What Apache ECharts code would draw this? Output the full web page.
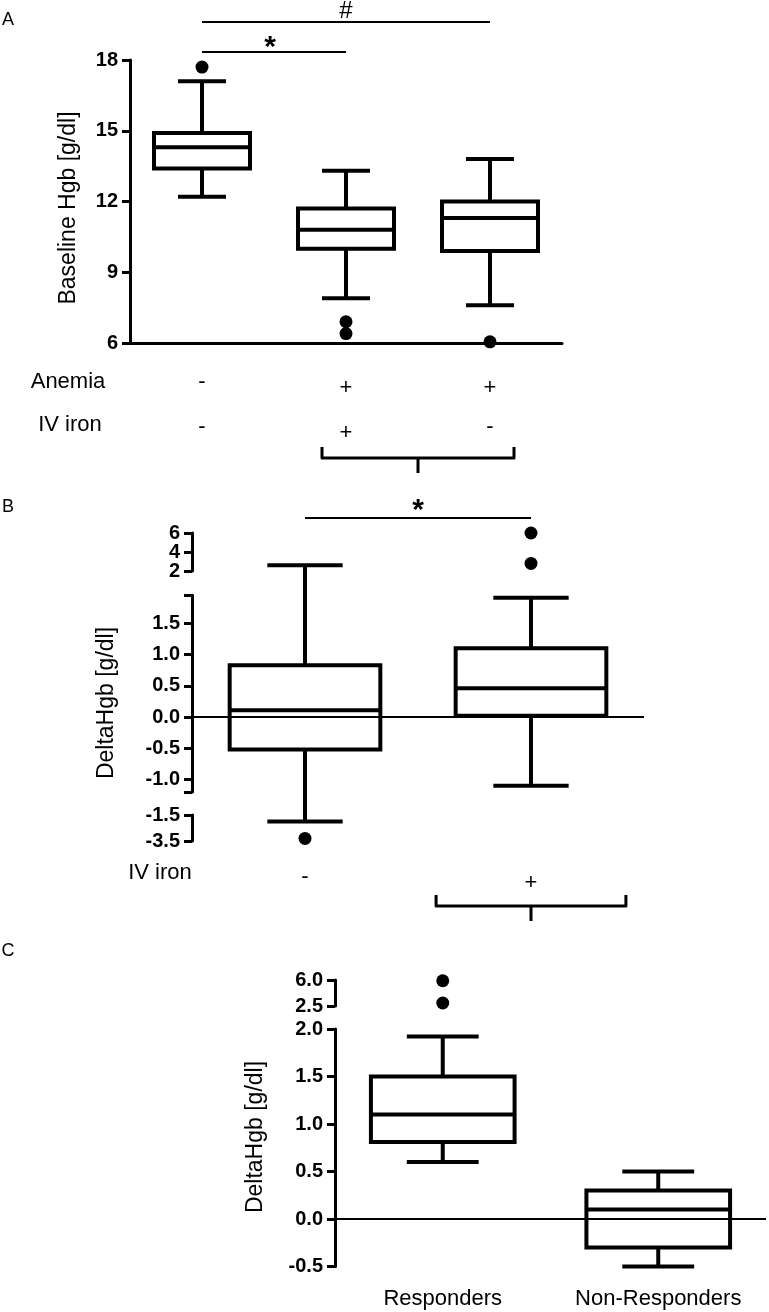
<!DOCTYPE html>
<html>
<head>
<meta charset="utf-8">
<script src="https://cdn.jsdelivr.net/npm/echarts@6/dist/echarts.min.js"></script>
<style>
html, body { margin: 0; padding: 0; background: #fff; }
#chart { width: 769px; height: 1312px; }
</style>
</head>
<body>
<div id="chart"></div>
<script>
// box = [lower whisker, Q1, median, Q3, upper whisker]
// --- panel A: baseline Hgb ---
const groupsA = ['no anemia', 'anemia, IV iron', 'anemia, no IV iron']
const anemiaRow = ['-', '+', '+']
const ironRowA = ['-', '+', '-']
const boxesA = [
  [12.2, 13.4, 14.3, 14.9, 17.1],
  [7.9, 10.0, 10.8, 11.7, 13.3],
  [7.6, 9.9, 11.3, 12.0, 13.8]
]
const outliersA = [[0, 17.7], [1, 6.4], [1, 6.9], [2, 6.05]]
const ticksA = [6, 9, 12, 15, 18]

// --- panel B: delta Hgb by IV iron ---
const groupsB = ['no IV iron', 'IV iron']
const ironRowB = ['-', '+']
const boxesB = [
  [-2.0, -0.52, 0.11, 0.83, 2.6],
  [-1.1, 0.02, 0.46, 1.1, 1.91]
]
const outliersB = [[0, -3.3], [1, 6.0], [1, 2.8]]
const ticksBTop = [2, 4, 6]
const ticksBMid = [-1.0, -0.5, 0.0, 0.5, 1.0, 1.5]
const ticksBLow = [-3.5, -1.5]

// --- panel C: responders ---
const groupsC = ['Responders', 'Non-Responders']
const boxesC = [
  [0.6, 0.81, 1.1, 1.5, 1.92],
  [-0.5, -0.3, 0.1, 0.3, 0.5]
]
const outliersC = [[0, 5.9], [0, 2.9]]
const ticksCTop = [2.5, 6.0]
const ticksCMain = [-0.5, 0.0, 0.5, 1.0, 1.5, 2.0]

const FONT = '"Liberation Sans", Arial, sans-serif'

// broken axes: every piece maps its value range onto a pixel span,
// the data axis of the panel runs in "main piece" units
const layoutB = {
  left: 192, width: 452, top: 500, height: 360, zeroPx: 717, pxPerUnit: 62.4,
  pieces: [
    { lo: 2, hi: 6, pxTop: 533, pxBottom: 571, ticks: ticksBTop, fmt: v => String(v), crowded: true },
    { lo: -1.2, hi: 1.95, pxTop: 595.3, pxBottom: 791.9, ticks: ticksBMid, fmt: v => v.toFixed(1) },
    { lo: -3.5, hi: -1.5, pxTop: 815, pxBottom: 841, ticks: ticksBLow, fmt: v => v.toFixed(1) }
  ]
}
const layoutC = {
  left: 335, width: 431, top: 960, height: 320, zeroPx: 1219, pxPerUnit: 95,
  pieces: [
    { lo: 2.5, hi: 6.0, pxTop: 980, pxBottom: 1006, ticks: ticksCTop, fmt: v => v.toFixed(1) },
    { lo: -0.5, hi: 2.0, pxTop: 1029, pxBottom: 1266.5, ticks: ticksCMain, fmt: v => v.toFixed(1) }
  ]
}

function toAxis (cfg, v) {
  let p = cfg.pieces.find(s => v >= s.lo && v <= s.hi)
  if (!p) {
    const dist = s => Math.min(Math.abs(v - s.lo), Math.abs(v - s.hi))
    p = cfg.pieces.reduce((a, s) => dist(s) < dist(a) ? s : a)
  }
  const px = p.pxBottom + (v - p.lo) / (p.hi - p.lo) * (p.pxTop - p.pxBottom)
  return (cfg.zeroPx - px) / cfg.pxPerUnit
}
function axisRange (cfg) {
  return {
    min: (cfg.zeroPx - cfg.top - cfg.height) / cfg.pxPerUnit,
    max: (cfg.zeroPx - cfg.top) / cfg.pxPerUnit
  }
}

function renderBox (params, api) {
  const band = api.size([1, 0])[0]
  const half = band / 3
  const cap = band / 6
  const pts = [1, 2, 3, 4, 5].map(d => api.coord([api.value(0), api.value(d)]))
  const x = pts[0][0]
  const [yMin, yQ1, yMed, yQ3, yMax] = pts.map(q => q[1])
  const st = { stroke: '#000', lineWidth: 4 }
  const line = (x1, y1, x2, y2) => ({ type: 'line', shape: { x1, y1, x2, y2 }, style: st })
  return {
    type: 'group',
    children: [
      line(x, yQ3, x, yMax), line(x - cap, yMax, x + cap, yMax),
      line(x, yQ1, x, yMin), line(x - cap, yMin, x + cap, yMin),
      { type: 'rect', shape: { x: x - half, y: yQ3, width: 2 * half, height: yQ1 - yQ3 },
        style: { fill: 'none', stroke: '#000', lineWidth: 4 } },
      line(x - half, yMed, x + half, yMed)
    ]
  }
}

const axisLine = { show: true, lineStyle: { color: '#000', width: 3 } }
const tickStyle = { show: true, length: 8, lineStyle: { color: '#000', width: 3 } }
const tickLabel = {
  color: '#000', fontSize: 20, fontWeight: 'bold', fontFamily: FONT, margin: 12,
  hideOverlap: false, showMinLabel: true, showMaxLabel: true
}
const dot = { color: '#000', opacity: 1 }

const grids = [
  { left: 130, top: 60, width: 432, height: 283 },
  { left: layoutB.left, top: layoutB.top, width: layoutB.width, height: layoutB.height },
  { left: layoutC.left, top: layoutC.top, width: layoutC.width, height: layoutC.height }
]
const xAxes = [
  { type: 'category', gridIndex: 0, data: groupsA, axisLine: axisLine, axisTick: { show: false }, axisLabel: { show: false } },
  { type: 'category', gridIndex: 1, data: groupsB, show: false },
  { type: 'category', gridIndex: 2, data: groupsC, axisLine: { show: false }, axisTick: { show: false },
    axisLabel: { color: '#000', fontSize: 22, fontFamily: FONT, margin: 8, interval: 0, hideOverlap: false } }
]
const yAxes = [
  { type: 'value', gridIndex: 0, min: 6, max: 18, interval: 3, axisLine: axisLine, axisTick: tickStyle,
    axisLabel: Object.assign({ customValues: ticksA }, tickLabel), splitLine: { show: false } },
  Object.assign({ type: 'value', gridIndex: 1, show: false, splitLine: { show: false } }, axisRange(layoutB)),
  Object.assign({ type: 'value', gridIndex: 2, show: false, splitLine: { show: false } }, axisRange(layoutC))
]

// one small grid per axis piece, so each piece gets its own axis line and ticks;
// a crowded piece puts every other label on a second, line-less axis on top
function addPieceAxis (cfg, p, labels, showLine) {
  const gi = grids.length
  grids.push({ left: cfg.left, top: p.pxTop, width: 10, height: p.pxBottom - p.pxTop })
  xAxes.push({ type: 'value', gridIndex: gi, show: false, min: 0, max: 1 })
  const tickVals = showLine
    ? [p.lo].concat(labels.filter(t => t !== p.lo && t !== p.hi), [p.hi])
    : labels
  yAxes.push({
    type: 'value', gridIndex: gi, min: p.lo, max: p.hi,
    axisLine: showLine ? axisLine : { show: false },
    axisTick: Object.assign({ customValues: tickVals }, tickStyle),
    axisLabel: Object.assign({ customValues: labels, formatter: p.fmt }, tickLabel),
    splitLine: { show: false }
  })
}
;[layoutB, layoutC].forEach(cfg => {
  cfg.pieces.forEach(p => {
    if (p.crowded) {
      addPieceAxis(cfg, p, p.ticks.filter((t, i) => i % 2 === 0), true)
      addPieceAxis(cfg, p, p.ticks.filter((t, i) => i % 2 === 1), false)
    } else {
      addPieceAxis(cfg, p, p.ticks, true)
    }
  })
})
grids.forEach(g => { g.containLabel = false; g.outerBoundsMode = 'none' })

const zeroLine = {
  silent: true, symbol: ['none', 'none'], label: { show: false },
  lineStyle: { color: '#000', width: 2, type: 'solid', opacity: 1 },
  data: [{ yAxis: 0 }]
}

const series = [
  { type: 'custom', xAxisIndex: 0, yAxisIndex: 0, renderItem: renderBox,
    data: boxesA.map((b, i) => [i].concat(b)) },
  { type: 'scatter', xAxisIndex: 0, yAxisIndex: 0, symbolSize: 13, itemStyle: dot,
    data: outliersA },
  { type: 'custom', xAxisIndex: 1, yAxisIndex: 1, renderItem: renderBox,
    data: boxesB.map((b, i) => [i].concat(b.map(v => toAxis(layoutB, v)))) },
  { type: 'scatter', xAxisIndex: 1, yAxisIndex: 1, symbolSize: 13, itemStyle: dot,
    data: outliersB.map(([c, v]) => [c, toAxis(layoutB, v)]), markLine: zeroLine },
  { type: 'custom', xAxisIndex: 2, yAxisIndex: 2, renderItem: renderBox,
    data: boxesC.map((b, i) => [i].concat(b.map(v => toAxis(layoutC, v)))) },
  { type: 'scatter', xAxisIndex: 2, yAxisIndex: 2, symbolSize: 13, itemStyle: dot,
    data: outliersC.map(([c, v]) => [c, toAxis(layoutC, v)]), markLine: zeroLine }
]

const chart = echarts.init(document.getElementById('chart'))
chart.setOption({
  animation: false,
  backgroundColor: '#fff',
  textStyle: { fontFamily: FONT },
  grid: grids,
  xAxis: xAxes,
  yAxis: yAxes,
  series: series
})

// annotations: panel letters, row captions, braces, significance bars
function text (str, x, y, size, extra) {
  const style = Object.assign({
    text: str, fontSize: size, fontFamily: FONT, fill: '#000',
    align: 'center', verticalAlign: 'middle', textAlign: 'center', textVerticalAlign: 'middle'
  }, extra || {})
  return { type: 'text', x: x, y: y, style: style }
}
function vtext (str, x, y, size) {
  const t = text(str, x, y, size)
  t.rotation = Math.PI / 2
  return t
}
function seg (x1, y1, x2, y2, w) {
  return { type: 'line', shape: { x1, y1, x2, y2 }, style: { stroke: '#000', lineWidth: w || 2 } }
}
function brace (l, r, y) {
  return [
    { type: 'polyline', shape: { points: [[l, y - 11], [l, y], [r, y], [r, y - 11]] },
      style: { stroke: '#000', lineWidth: 3, fill: null, lineJoin: 'round' } },
    seg((l + r) / 2, y, (l + r) / 2, y + 15, 3)
  ]
}
const signY = { '-': -2, '+': 4 }
const xA = i => chart.convertToPixel({ xAxisIndex: 0 }, i)
const xB = i => chart.convertToPixel({ xAxisIndex: 1 }, i)
const bandA = xA(1) - xA(0)
const bandB = xB(1) - xB(0)

const g = []
g.push(text('A', 8, 20, 18))
g.push(text('B', 8, 507, 18))
g.push(text('C', 8, 951, 18))

g.push(vtext('Baseline Hgb [g/dl]', 69, 208, 23))
g.push(vtext('DeltaHgb [g/dl]', 107, 703, 23))
g.push(vtext('DeltaHgb [g/dl]', 256, 1137, 23))

// panel A significance
g.push(seg(xA(0), 22, xA(2), 22))
g.push(text('#', (xA(0) + xA(2)) / 2, 11, 24))
g.push(seg(xA(0), 52, xA(1), 52))
g.push(text('*', (xA(0) + xA(1)) / 2 - 4, 48, 30, { fontWeight: 'bold' }))

// panel A rows
g.push(text('Anemia', 68, 382, 22))
anemiaRow.forEach((s, i) => g.push(text(s, xA(i), 384 + signY[s], 22)))
g.push(text('IV iron', 70, 425, 22))
ironRowA.forEach((s, i) => g.push(text(s, xA(i), 429 + signY[s], 22)))
brace(xA(1) - bandA / 6, xA(2) + bandA / 6, 458).forEach(e => g.push(e))

// panel B significance and rows
g.push(seg(xB(0), 518, xB(1), 518))
g.push(text('*', (xB(0) + xB(1)) / 2, 511, 30, { fontWeight: 'bold' }))
g.push(text('IV iron', 160, 873, 22))
ironRowB.forEach((s, i) => g.push(text(s, xB(i), 879 + signY[s], 22)))
brace(xB(1) - bandB * 0.42, xB(1) + bandB * 0.42, 906).forEach(e => g.push(e))

chart.setOption({ graphic: { elements: g } })
</script>
</body>
</html>
